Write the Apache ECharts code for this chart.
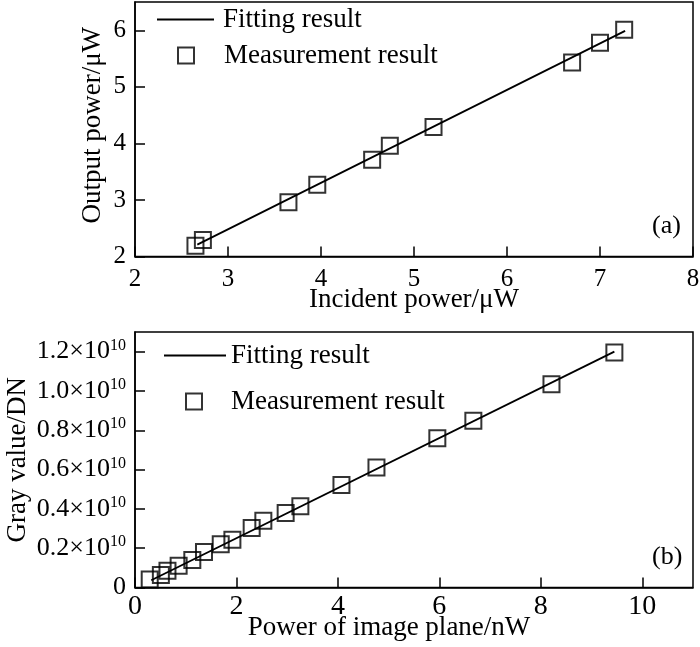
<!DOCTYPE html>
<html>
<head>
<meta charset="utf-8">
<title>Power calibration</title>
<script src="https://cdn.jsdelivr.net/npm/echarts@6.0.0/dist/echarts.min.js"></script>
<style>
  html, body { margin: 0; padding: 0; background: #fff; }
  #main { width: 700px; height: 647px; }
</style>
</head>
<body>
<div id="main"></div>
<script>
// (a) incident power vs output power, uW
var incidentPower = [2.65, 2.73, 3.65, 3.96, 4.55, 4.74, 5.21, 6.70, 7.00, 7.26];
var outputPower = [2.19, 2.29, 2.96, 3.27, 3.71, 3.96, 4.29, 5.43, 5.78, 6.01];
var fitAX = [2.67, 7.27];
var fitAY = [2.21, 5.99];

// (b) power of image plane (nW) vs gray value (DN)
var planePower = [0.29, 0.51, 0.64, 0.86, 1.13, 1.36, 1.69, 1.92, 2.30, 2.53, 2.97, 3.26,
                  4.07, 4.76, 5.96, 6.67, 8.21, 9.45];
var grayValue = [0.041e10, 0.063e10, 0.085e10, 0.111e10, 0.140e10, 0.181e10, 0.220e10, 0.243e10,
                 0.303e10, 0.340e10, 0.379e10, 0.413e10, 0.521e10, 0.610e10, 0.760e10, 0.849e10,
                 1.034e10, 1.196e10];
var fitBX = [0.32, 9.45];
var fitBY = [0.037e10, 1.200e10];

var grayTicks = ['0', '0.2', '0.4', '0.6', '0.8', '1.0', '1.2'];

function pairs(xs, ys) {
    var out = [];
    for (var i = 0; i < xs.length; i++) out.push([xs[i], ys[i]]);
    return out;
}

var font = 'Liberation Serif';
var black = '#000';

var myChart = echarts.init(document.getElementById('main'));

function axisCommon(size) {
    return {
        axisLine: { show: true, onZero: false, lineStyle: { color: black, width: 1.5 } },
        axisTick: { show: true, inside: true, length: 10, lineStyle: { color: black, width: 1.5 } },
        splitLine: { show: false },
        axisLabel: { color: black, fontFamily: font, fontSize: size, showMaxLabel: false },
        nameTextStyle: { color: black, fontFamily: font, fontSize: 27 },
        nameLocation: 'middle',
        nameMoveOverlap: false
    };
}

function merge(a, b) {
    for (var k in b) a[k] = b[k];
    return a;
}

var xA = merge(axisCommon(25), {
    type: 'value', gridIndex: 0, min: 2, max: 8, interval: 1,
    name: 'Incident power/μW', nameGap: 30
});
xA.axisLabel.margin = 10;
xA.axisLabel.showMaxLabel = true;

var yA = merge(axisCommon(25), {
    type: 'value', gridIndex: 0, min: 2, max: 6.5, interval: 1,
    name: 'Output power/μW', nameGap: 29
});
yA.axisLabel.margin = 9;
yA.nameTextStyle.padding = [0, 0, 0, 8];

var xB = merge(axisCommon(28), {
    type: 'value', gridIndex: 1, min: 0, max: 11, interval: 2,
    name: 'Power of image plane/nW', nameGap: 27
});
xB.axisLabel.margin = 5;
xB.nameTextStyle.padding = [0, 50, 0, 0];

var yB = merge(axisCommon(27), {
    type: 'value', gridIndex: 1, min: 0, max: 1.3e10, interval: 0.2e10,
    name: 'Gray value/DN', nameGap: 104
});
yB.axisLabel.margin = 9;
yB.axisLabel.formatter = function (v) {
    var idx = Math.round(v / 0.2e10);
    var t = grayTicks[idx];
    if (t === undefined) return '';
    if (t === '0') return '{b|0}';
    return '{b|' + t + '×10}{sup|10}';
};
yB.axisLabel.rich = {
    b: { fontFamily: font, fontSize: 26, color: black, lineHeight: 28 },
    sup: { fontFamily: font, fontSize: 16, color: black, lineHeight: 14, verticalAlign: 'top' }
};

var lineStyle = { color: black, width: 1.8 };
var markStyle = { color: 'rgba(0,0,0,0)', borderColor: black, borderWidth: 2 };

var legendText = { color: black, fontFamily: font, fontSize: 27 };

option = {
    animation: false,
    backgroundColor: '#fff',
    grid: [
        { left: 135, top: 2, width: 558, height: 254.5, show: true, borderColor: black, borderWidth: 1.5, outerBoundsMode: 'none' },
        { left: 135, top: 332, width: 558, height: 255.5, show: true, borderColor: black, borderWidth: 1.5, outerBoundsMode: 'none' }
    ],
    xAxis: [xA, xB],
    yAxis: [yA, yB],
    legend: [
        { data: [{ name: 'Fitting result', icon: 'rect' }], left: 157, top: 6, padding: 0, itemWidth: 57, itemHeight: 2,
          textStyle: merge({ padding: [0, 0, 0, 4] }, legendText) },
        { data: ['Measurement result'], left: 177, top: 42, padding: 0, itemWidth: 16, itemHeight: 16,
          textStyle: merge({ padding: [0, 0, 0, 25] }, legendText) },
        { data: [{ name: 'Fitting result', icon: 'rect' }], left: 164, top: 342, padding: 0, itemWidth: 62, itemHeight: 2,
          textStyle: merge({ padding: [0, 0, 0, 0] }, legendText) },
        { data: ['Measurement result'], left: 185, top: 388, padding: 0, itemWidth: 16, itemHeight: 16,
          textStyle: merge({ padding: [0, 0, 0, 24] }, legendText) }
    ],
    graphic: [
        { type: 'text', left: 652, top: 213, style: { text: '(a)', font: '26px "Liberation Serif"', fill: black } },
        { type: 'text', left: 652, top: 544, style: { text: '(b)', font: '26px "Liberation Serif"', fill: black } }
    ],
    series: [
        {
            name: 'Fitting result', type: 'line', xAxisIndex: 0, yAxisIndex: 0,
            data: pairs(fitAX, fitAY), symbol: 'none', lineStyle: lineStyle, itemStyle: { color: black }
        },
        {
            name: 'Measurement result', type: 'scatter', xAxisIndex: 0, yAxisIndex: 0,
            data: pairs(incidentPower, outputPower), symbol: 'rect', symbolSize: 16, itemStyle: markStyle
        },
        {
            name: 'Fitting result', type: 'line', xAxisIndex: 1, yAxisIndex: 1,
            data: pairs(fitBX, fitBY), symbol: 'none', lineStyle: lineStyle, itemStyle: { color: black }
        },
        {
            name: 'Measurement result', type: 'scatter', xAxisIndex: 1, yAxisIndex: 1,
            data: pairs(planePower, grayValue), symbol: 'rect', symbolSize: 16, itemStyle: markStyle
        }
    ]
};

myChart.setOption(option);
</script>
</body>
</html>
